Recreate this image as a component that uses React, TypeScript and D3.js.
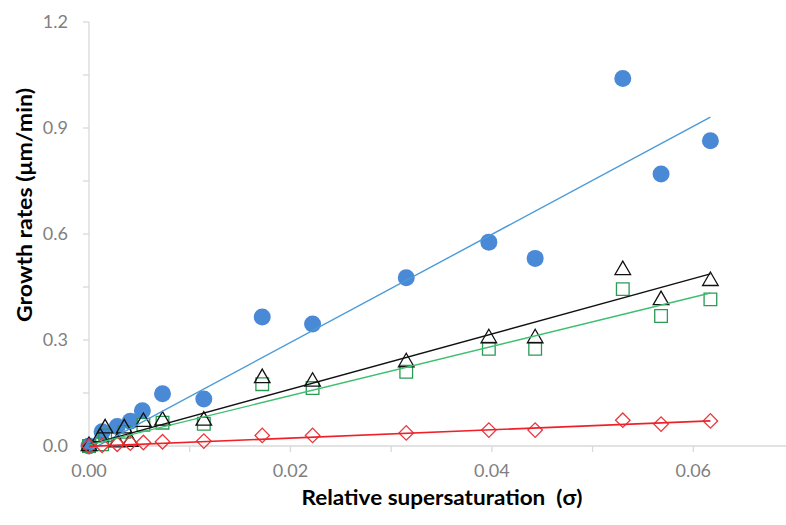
import * as d3 from "d3";

// measured growth rates vs relative supersaturation, four series
const blueX = [0, 0.0013, 0.0028, 0.0041, 0.0053, 0.0073, 0.0114, 0.0172, 0.0222, 0.0315, 0.0397, 0.0443, 0.053, 0.0568, 0.0617];
const blueY = [0, 0.04, 0.055, 0.07, 0.1, 0.148, 0.133, 0.365, 0.345, 0.476, 0.577, 0.531, 1.04, 0.77, 0.864];

const triX = [0, 0.0011, 0.0016, 0.0028, 0.0035, 0.0041, 0.0054, 0.0073, 0.0114, 0.0172, 0.0222, 0.0315, 0.0397, 0.0443, 0.053, 0.0568, 0.0617];
const triY = [0, 0.025, 0.05, 0.01, 0.05, 0.012, 0.068, 0.072, 0.072, 0.192, 0.182, 0.237, 0.305, 0.305, 0.498, 0.413, 0.467];

const sqX = [0, 0.0013, 0.0016, 0.0035, 0.0054, 0.0073, 0.0114, 0.0172, 0.0222, 0.0315, 0.0397, 0.0443, 0.053, 0.0568, 0.0617];
const sqY = [0, 0.005, 0.03, 0.04, 0.06, 0.066, 0.063, 0.175, 0.164, 0.21, 0.275, 0.275, 0.444, 0.368, 0.415];

const redX = [0, 0.0013, 0.0028, 0.0041, 0.0054, 0.0073, 0.0114, 0.0172, 0.0222, 0.0315, 0.0397, 0.0443, 0.053, 0.0568, 0.0617];
const redY = [0, 0.002, 0.005, 0.008, 0.01, 0.012, 0.014, 0.03, 0.03, 0.037, 0.045, 0.045, 0.073, 0.062, 0.071];

// linear trendlines: [slope, intercept]
const blueFit = [15.3, -0.013];
const triFit = [7.83, 0.004];
const sqFit = [6.97, 0.003];
const redFit = [1.17, -0.001];

const xTicks = [0, 0.01, 0.02, 0.03, 0.04, 0.05, 0.06, 0.07];
const xLabels = [0, 0.02, 0.04, 0.06];
const yTicks = [0, 0.15, 0.3, 0.45, 0.6, 0.75, 0.9, 1.05, 1.2];
const yLabels = [0, 0.3, 0.6, 0.9, 1.2];

const W = 786;
const H = 525;
const FONT = "Lato, 'Open Sans', sans-serif";

export default function App() {
  const x = d3.scaleLinear().domain([0, 0.07]).range([89, 794]);
  const y = d3.scaleLinear().domain([0, 1.2]).range([446, 22]);

  const zip = (xs: number[], ys: number[]) => xs.map((v, i) => [v, ys[i]] as [number, number]);
  const fitLine = (xs: number[], fit: number[]) => {
    const x0 = d3.min(xs)!;
    const x1 = d3.max(xs)!;
    return d3.line()([
      [x(x0), y(fit[0] * x0 + fit[1])],
      [x(x1), y(fit[0] * x1 + fit[1])],
    ])!;
  };

  const tri = d3.symbol(d3.symbolTriangle, 105)()!;
  const sq = d3.symbol(d3.symbolSquare, 160)()!;
  const dia = d3.symbol(d3.symbolSquare, 105)()!;

  return (
    <svg width={W} height={H} style={{ position: "absolute", left: 0, top: 0, background: "#fff" }}>
      {/* axes */}
      <line x1={x(0)} x2={W} y1={y(0)} y2={y(0)} stroke="#d9d9d9" strokeWidth={1.3} />
      <line x1={x(0)} x2={x(0)} y1={y(0)} y2={y(1.2)} stroke="#d9d9d9" strokeWidth={1.3} />
      {xTicks.map((t) => (
        <line key={"xt" + t} x1={x(t)} x2={x(t)} y1={y(0)} y2={y(0) + 6} stroke="#d9d9d9" strokeWidth={1.3} />
      ))}
      {yTicks.map((t) => (
        <line key={"yt" + t} x1={x(0) - 6} x2={x(0)} y1={y(t)} y2={y(t)} stroke="#d9d9d9" strokeWidth={1.3} />
      ))}
      {xLabels.map((t) => (
        <text key={"xl" + t} x={x(t)} y={477} textAnchor="middle" fontFamily={FONT} fontSize={18} fill="#7f7f7f">
          {d3.format(".2f")(t)}
        </text>
      ))}
      {yLabels.map((t) => (
        <text key={"yl" + t} x={68} y={y(t) + 6} textAnchor="end" fontFamily={FONT} fontSize={18} fill="#7f7f7f">
          {d3.format(".1f")(t)}
        </text>
      ))}
      <text
        x={442}
        y={505}
        textAnchor="middle"
        fontFamily={FONT}
        fontSize={21}
        fontWeight="bold"
        fill="#000"
        textLength={281}
        lengthAdjust="spacingAndGlyphs"
        style={{ whiteSpace: "pre" }}
      >
        {"Relative supersaturation  (σ)"}
      </text>
      <text
        transform={`translate(32,${205}) rotate(-90)`}
        textAnchor="middle"
        fontFamily={FONT}
        fontSize={21}
        fontWeight="bold"
        fill="#000"
        textLength={234}
        lengthAdjust="spacingAndGlyphs"
      >
        Growth rates (μm/min)
      </text>

      {/* points */}
      {zip(blueX, blueY).map(([a, b], i) => (
        <circle key={"b" + i} cx={x(a)} cy={y(b)} r={8.5} fill="#4a89d6" />
      ))}
      {zip(sqX, sqY).map(([a, b], i) => (
        <path key={"s" + i} d={sq} transform={`translate(${x(a)},${y(b)})`} fill="none" stroke="#2a9a55" strokeWidth={1.3} />
      ))}
      {zip(triX, triY).map(([a, b], i) => (
        <path key={"t" + i} d={tri} transform={`translate(${x(a)},${y(b)})`} fill="none" stroke="#111" strokeWidth={1.3} />
      ))}
      {zip(redX, redY).map(([a, b], i) => (
        <path key={"r" + i} d={dia} transform={`translate(${x(a)},${y(b)}) rotate(45)`} fill="none" stroke="#e8383d" strokeWidth={1.3} />
      ))}

      {/* trendlines */}
      <path d={fitLine(blueX, blueFit)} stroke="#4a9ad8" strokeWidth={1.4} fill="none" />
      <path d={fitLine(triX, triFit)} stroke="#111" strokeWidth={1.4} fill="none" />
      <path d={fitLine(sqX, sqFit)} stroke="#3cbf6e" strokeWidth={1.4} fill="none" />
      <path d={fitLine(redX, redFit)} stroke="#f0202a" strokeWidth={1.6} fill="none" />
    </svg>
  );
}
